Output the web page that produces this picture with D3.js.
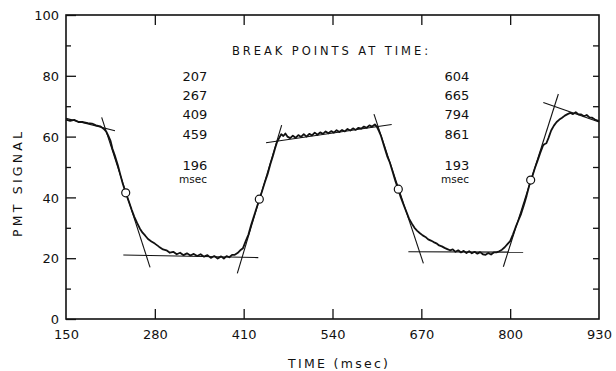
<!DOCTYPE html>
<html>
<head>
<meta charset="utf-8">
<script src="https://cdn.jsdelivr.net/npm/d3@7"></script>
<style>
  body { margin: 0; background: #fff; }
  svg { display: block; }
  text { font-family: "DejaVu Sans", sans-serif; fill: #111; }
</style>
</head>
<body>
<svg id="chart" width="616" height="371"></svg>
<script>
var traceTime = [150,156,162,168,175,182,188,194,200,205,209,212,215,218,222,226,229,233,237,242,246,250,254,258,262,266,270,275,280,286,292,297,302,307,312,317,322,327,332,337,342,347,352,357,362,367,372,377,381,385,389,393,397,401,405,409,413,417,421,425,429,433,437,441,445,449,453,456,459,462,465,468,471,474,478,482,486,490,494,498,502,506,510,514,518,522,526,530,534,538,542,546,550,554,558,562,566,570,574,578,582,586,590,594,598,602,605,608,611,614,617,620,624,628,632,636,640,644,648,652,656,660,664,668,672,676,680,684,688,692,696,700,704,708,712,716,720,724,728,732,736,740,744,748,752,756,760,764,768,772,776,780,784,788,792,796,800,804,808,812,816,820,824,828,832,836,840,844,848,850,853,856,860,864,868,872,876,880,884,888,892,896,900,904,908,912,916,920,924,928,930];
var traceSignal = [65.6,65.2,65.5,64.8,64.8,64.4,64.3,63.7,63.4,62.6,61.6,60.2,58.7,56.0,53.4,50.5,47.9,44.6,41.8,38.6,36.0,33.6,31.6,29.8,28.4,27.4,26.3,25.5,24.8,23.8,22.9,22.6,21.8,22.1,21.3,21.8,21.0,21.6,20.9,21.4,20.7,21.3,20.5,21.0,20.1,20.7,19.9,20.6,19.9,20.7,20.3,21.1,21.1,21.7,22.6,23.3,25.6,27.8,31.0,33.8,36.6,39.4,42.1,45.0,47.6,50.9,53.8,56.2,58.3,59.6,60.8,60.2,61.0,60.0,59.5,60.3,59.6,60.5,59.9,60.8,60.0,60.9,60.4,61.3,60.6,61.4,60.9,61.7,61.1,61.8,61.3,62.1,61.5,62.2,61.7,62.5,62.0,62.7,62.2,62.9,62.6,63.3,62.9,63.7,63.3,64.0,63.2,61.8,60.2,58.0,55.8,53.6,51.4,48.4,45.4,42.8,40.0,37.6,35.3,33.0,31.4,30.0,29.0,28.2,27.5,27.0,26.2,25.8,25.3,24.9,24.2,23.9,23.4,23.0,22.6,22.9,22.1,22.6,21.9,22.4,21.7,22.3,21.6,22.1,21.5,22.0,21.3,21.1,21.7,21.2,21.9,21.9,22.3,22.8,23.6,24.6,25.6,27.8,30.2,32.4,34.6,37.4,40.5,44.0,46.6,49.5,52.0,54.6,57.0,57.5,57.8,59.5,62.0,63.6,64.8,65.6,66.2,66.9,67.4,67.8,67.4,68.0,67.3,67.3,66.7,67.1,66.3,66.2,65.6,65.3,64.9];

// fitted straight lines: [t0, v0, t1, v1]
var fitLines = [
  [150, 66.0, 221.7, 61.9],
  [202.2, 66.3, 273, 17.0],
  [233.9, 21.05, 431.4, 20.2],
  [400.7, 15.0, 465.6, 63.8],
  [442.7, 58.0, 626.6, 64.0],
  [600.7, 67.4, 673, 18.3],
  [651, 22.1, 819, 22.0],
  [790, 17.2, 870.5, 74.0],
  [848.5, 71.2, 929, 64.9]
];

// half-way markers
var circleTime = [237.4, 432.9, 636.3, 830];
var circleSignal = [41.5, 39.4, 42.7, 45.7];

var leftBreaks = ["207", "267", "409", "459"];
var rightBreaks = ["604", "665", "794", "861"];
var durations = ["196", "193"];

var xTicks = [150, 280, 410, 540, 670, 800, 930];
var yTicks = [0, 20, 40, 60, 80, 100];
var yMinor = [10, 30, 50, 70, 90];

var svg = d3.select("#chart");
var x = d3.scaleLinear().domain([150, 930]).range([66, 599]);
var y = d3.scaleLinear().domain([0, 100]).range([319, 15]);

var g = svg.append("g");

// frame
g.append("rect")
  .attr("x", x(150)).attr("y", y(100))
  .attr("width", x(930) - x(150)).attr("height", y(0) - y(100))
  .attr("fill", "none").attr("stroke", "#111").attr("stroke-width", 1.6);

// left axis: long ticks at labels, short ones between
var leftAxis = g.append("g").attr("transform", "translate(" + x(150) + ",0)");
leftAxis.call(d3.axisLeft(y).tickValues(yTicks).tickSize(-10).tickPadding(7));
leftAxis.append("g").call(d3.axisLeft(y).tickValues(yMinor).tickSize(-5).tickFormat(""));
leftAxis.selectAll(".domain").remove();

// right axis: short ticks only
var rightAxis = g.append("g").attr("transform", "translate(" + x(930) + ",0)");
rightAxis.call(d3.axisRight(y).tickValues(d3.range(10, 100, 10)).tickSize(-6).tickFormat(""));
rightAxis.selectAll(".domain").remove();

var bottomAxis = g.append("g").attr("transform", "translate(0," + y(0) + ")");
bottomAxis.call(d3.axisBottom(x).tickValues(xTicks).tickSize(-10).tickPadding(11));
bottomAxis.selectAll(".domain").remove();
bottomAxis.selectAll(".tick").filter(function(d) { return d === 150 || d === 930; }).select("line").remove();

var topAxis = g.append("g").attr("transform", "translate(0," + y(100) + ")");
topAxis.call(d3.axisTop(x).tickValues(xTicks.slice(1, -1)).tickSize(-10).tickFormat(""));
topAxis.selectAll(".domain").remove();

g.selectAll(".tick line").attr("stroke", "#111").attr("stroke-width", 1.3);
g.selectAll(".tick text")
  .attr("font-size", 13)
  .attr("font-family", "DejaVu Sans, sans-serif")
  .attr("fill", "#111");
leftAxis.selectAll(".tick text").attr("dy", "0.36em");

// fitted lines
g.selectAll(".fit")
  .data(fitLines)
  .enter().append("line")
  .attr("class", "fit")
  .attr("x1", function(d) { return x(d[0]); })
  .attr("y1", function(d) { return y(d[1]); })
  .attr("x2", function(d) { return x(d[2]); })
  .attr("y2", function(d) { return y(d[3]); })
  .attr("stroke", "#111").attr("stroke-width", 1.1);

// trace
var line = d3.line()
  .x(function(d, i) { return x(traceTime[i]); })
  .y(function(d) { return y(d); });

g.append("path")
  .datum(traceSignal)
  .attr("d", line)
  .attr("fill", "none")
  .attr("stroke", "#111")
  .attr("stroke-width", 1.8)
  .attr("stroke-linejoin", "round");

g.selectAll(".mark")
  .data(circleTime)
  .enter().append("circle")
  .attr("class", "mark")
  .attr("cx", function(d) { return x(d); })
  .attr("cy", function(d, i) { return y(circleSignal[i]); })
  .attr("r", 4)
  .attr("fill", "#fff")
  .attr("stroke", "#111").attr("stroke-width", 1.2);

// annotation
g.append("text")
  .attr("x", 232).attr("y", 55)
  .attr("font-size", 11.5)
  .attr("textLength", 196)
  .attr("lengthAdjust", "spacing")
  .text("BREAK POINTS AT TIME:");

var rowY = [80.5, 100, 119, 138.5];
function column(cx, values, dur) {
  g.selectAll(null)
    .data(values)
    .enter().append("text")
    .attr("x", cx)
    .attr("y", function(d, i) { return rowY[i]; })
    .attr("text-anchor", "middle")
    .attr("font-size", 13)
    .text(function(d) { return d; });
  g.append("text")
    .attr("x", cx).attr("y", 169.5)
    .attr("text-anchor", "middle")
    .attr("font-size", 13)
    .text(dur);
  g.append("text")
    .attr("x", cx - 2).attr("y", 183)
    .attr("text-anchor", "middle")
    .attr("font-size", 10.5)
    .text("msec");
}
column(195, leftBreaks, durations[0]);
column(457, rightBreaks, durations[1]);

// axis titles
g.append("text")
  .attr("x", 288).attr("y", 367.5)
  .attr("font-size", 12.5)
  .attr("textLength", 100)
  .attr("lengthAdjust", "spacing")
  .text("TIME (msec)");

g.append("text")
  .attr("transform", "translate(21.5,237) rotate(-90)")
  .attr("font-size", 12.5)
  .attr("textLength", 105)
  .attr("lengthAdjust", "spacing")
  .text("PMT SIGNAL");
</script>
</body>
</html>
